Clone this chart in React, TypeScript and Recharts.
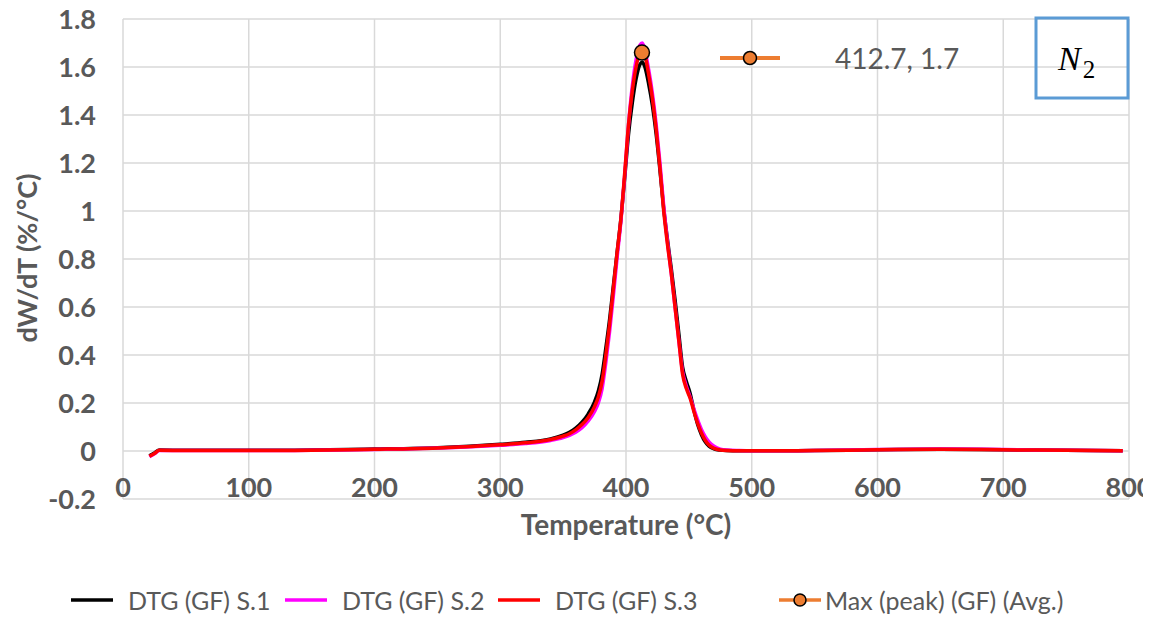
import { ComposedChart, Line, Scatter, XAxis, YAxis, CartesianGrid } from 'recharts';

const temps = [21, 25, 29, 50, 100, 150, 200, 250, 300, 320, 340, 350, 355, 360, 365, 370, 375, 378, 381, 384, 387, 390, 393, 396, 399, 402, 405, 408, 411, 413, 415, 418, 421, 424, 427, 430, 433, 436, 439, 442, 445, 448, 451, 454, 457, 460, 463, 466, 470, 475, 480, 490, 500, 550, 600, 650, 700, 750, 795];

const dtgS1 = [-0.02, -0.008, 0.004, 0.003, 0.003, 0.004, 0.008, 0.014, 0.028, 0.036, 0.05, 0.066, 0.078, 0.095, 0.12, 0.155, 0.205, 0.25, 0.32, 0.43, 0.55, 0.69, 0.83, 0.97, 1.14, 1.32, 1.45, 1.55, 1.61, 1.62, 1.6, 1.53, 1.44, 1.32, 1.17, 1.01, 0.88, 0.76, 0.63, 0.49, 0.35, 0.29, 0.24, 0.17, 0.11, 0.068, 0.038, 0.02, 0.009, 0.004, 0.002, 0.001, 0.001, 0.002, 0.005, 0.007, 0.005, 0.003, 0.001];

const dtgS2 = [-0.024, -0.012, 0.002, 0.002, 0.002, 0.003, 0.006, 0.012, 0.024, 0.031, 0.044, 0.056, 0.065, 0.078, 0.097, 0.125, 0.165, 0.2, 0.26, 0.37, 0.5, 0.65, 0.81, 0.96, 1.15, 1.36, 1.52, 1.63, 1.69, 1.7, 1.67, 1.59, 1.49, 1.36, 1.2, 1.02, 0.87, 0.74, 0.6, 0.46, 0.33, 0.27, 0.225, 0.175, 0.13, 0.09, 0.06, 0.038, 0.02, 0.008, 0.004, 0.002, 0.001, 0.002, 0.006, 0.008, 0.006, 0.003, 0.001];

const dtgS3 = [-0.022, -0.01, 0.003, 0.002, 0.002, 0.003, 0.007, 0.013, 0.026, 0.034, 0.048, 0.062, 0.072, 0.088, 0.11, 0.14, 0.185, 0.225, 0.29, 0.4, 0.53, 0.68, 0.83, 0.97, 1.16, 1.36, 1.5, 1.6, 1.66, 1.675, 1.65, 1.57, 1.47, 1.34, 1.18, 1.0, 0.86, 0.74, 0.6, 0.46, 0.32, 0.26, 0.22, 0.165, 0.115, 0.075, 0.045, 0.025, 0.011, 0.004, 0.002, 0.001, 0.001, 0.002, 0.005, 0.007, 0.005, 0.003, 0.001];

const peakT = [412.7];
const peakVal = [1.66];
const peakLabel = '412.7, 1.7';

const xTicks = [0, 100, 200, 300, 400, 500, 600, 700, 800];
const yTicks = [-0.2, 0, 0.2, 0.4, 0.6, 0.8, 1, 1.2, 1.4, 1.6, 1.8];

const seriesNames = ['DTG (GF) S.1', 'DTG (GF) S.2', 'DTG (GF) S.3', 'Max (peak) (GF) (Avg.)'];
const seriesColors = ['#000000', '#FF00FF', '#FF0000', '#ED7D31'];

const data = temps.map((t, i) => ({ T: t, s1: dtgS1[i], s2: dtgS2[i], s3: dtgS3[i] }));
const peakData = peakT.map((t, i) => ({ T: t, peak: peakVal[i] }));

const FONT = 'Lato, "Open Sans", sans-serif';
const GRAY = '#595959';

const PeakDot = (props: any) => (
  <circle cx={props.cx} cy={props.cy} r={7.5} fill="#ED7D31" stroke="#000" strokeWidth={1.5} />
);

export default function App() {
  return (
    <div style={{ position: 'absolute', left: 0, top: 0, width: 1153, height: 618, background: '#fff', overflow: 'hidden', fontFamily: FONT }}>
      <div style={{ position: 'absolute', left: 0, top: 0, width: 1143, height: 618, overflow: 'hidden' }}>
        <ComposedChart width={1153} height={618} data={data} margin={{ top: 19, right: 24, left: 23, bottom: 89 }}>
          <CartesianGrid stroke="#d9d9d9" strokeWidth={1.5} />
          <XAxis
            type="number"
            dataKey="T"
            domain={[0, 800]}
            ticks={xTicks}
            height={30}
            axisLine={false}
            tickLine={false}
            tickSize={0}
            tickMargin={-21}
            tick={{ fill: GRAY, fontSize: 27, fontWeight: 700, fontFamily: FONT }}
            interval={0}
          />
          <YAxis
            type="number"
            domain={[-0.2, 1.8]}
            ticks={yTicks}
            width={100}
            axisLine={false}
            tickLine={false}
            tickSize={0}
            tickMargin={27}
            tickFormatter={(v: number) => String(Math.round(v * 10) / 10)}
            tick={{ fill: GRAY, fontSize: 27, fontWeight: 700, fontFamily: FONT }}
            interval={0}
          />
          <Line type="monotone" dataKey="s1" stroke={seriesColors[0]} strokeWidth={3.5} dot={false} isAnimationActive={false} />
          <Line type="monotone" dataKey="s2" stroke={seriesColors[1]} strokeWidth={3.5} dot={false} isAnimationActive={false} />
          <Line type="monotone" dataKey="s3" stroke={seriesColors[2]} strokeWidth={3.5} dot={false} isAnimationActive={false} />
          <Scatter data={peakData} dataKey="peak" shape={PeakDot} isAnimationActive={false} />
        </ComposedChart>
      </div>

      {/* axis titles */}
      <svg width={1153} height={618} style={{ position: 'absolute', left: 0, top: 0, pointerEvents: 'none' }}>
        <text x={626} y={524} textAnchor="middle" dominantBaseline="central" fill={GRAY} fontSize={28} fontWeight={700} fontFamily={FONT}>
          Temperature (°C)
        </text>
        <text x={26} y={258} transform="rotate(-90 26 258)" textAnchor="middle" dominantBaseline="central" fill={GRAY} fontSize={27} fontWeight={700} fontFamily={FONT}>
          dW/dT (%/°C)
        </text>

        {/* peak label legend */}
        <line x1={720} y1={58} x2={780} y2={58} stroke="#ED7D31" strokeWidth={4} />
        <circle cx={750} cy={58} r={6.5} fill="#ED7D31" stroke="#000" strokeWidth={1.5} />
        <text x={835} y={58} dominantBaseline="central" fill={GRAY} fontSize={28} fontFamily={FONT}>{peakLabel}</text>

        {/* N2 box */}
        <rect x={1036} y={18} width={92} height={80} fill="none" stroke="#5B9BD5" strokeWidth={3} />
        <text x={1058} y={70} fill="#000" fontSize={34} fontStyle="italic" fontFamily='"Liberation Serif", "DejaVu Serif", serif'>
          N<tspan dx={2} dy={8} fontStyle="normal" fontSize={25}>2</tspan>
        </text>

        {/* legend */}
        {[71, 285, 498, 779].map((lx, i) => (
          <g key={i}>
            <line x1={lx} y1={600} x2={lx + 42} y2={600} stroke={seriesColors[i]} strokeWidth={3.5} />
            {i === 3 && <circle cx={lx + 21} cy={600} r={6} fill="#ED7D31" stroke="#000" strokeWidth={1.5} />}
            <text x={lx + (i === 3 ? 46 : 57)} y={600} dominantBaseline="central" fill={GRAY} fontSize={25} fontFamily={FONT}>
              {seriesNames[i]}
            </text>
          </g>
        ))}
      </svg>
    </div>
  );
}
